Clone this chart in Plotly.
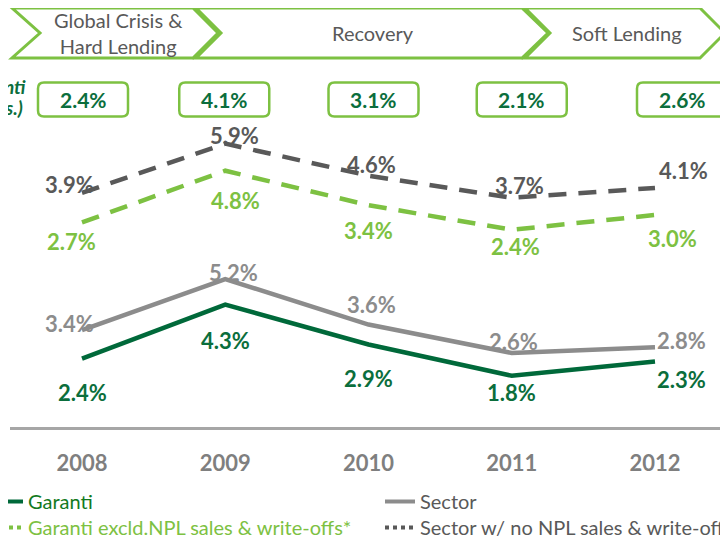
import plotly.graph_objects as go

# ---------------- data ----------------
years = ["2008", "2009", "2010", "2011", "2012"]
garanti = [2.4, 4.3, 2.9, 1.8, 2.3]
sector = [3.4, 5.2, 3.6, 2.6, 2.8]
garanti_excl = [2.7, 4.8, 3.4, 2.4, 3.0]
sector_no_npl = [3.9, 5.9, 4.6, 3.7, 4.1]
box_values = [2.4, 4.1, 3.1, 2.1, 2.6]
phases = ["Global Crisis &<br>Hard Lending", "Recovery", "Soft Lending"]
names = ["Garanti", "Sector", "Garanti excld.NPL sales & write-offs*",
         "Sector w/ no NPL sales & write-offs"]
side_title = ["Garanti", "(bps.)"]

# ---------------- style ----------------
FONT = "Lato"
C_GAR = "#00693A"
C_GAR_TXT = "#0B6E3C"
C_SEC = "#8C8C8C"
C_GEX = "#7DC142"
C_SNN = "#595959"
C_LEG_GAR = "#127A1E"

OFF = 8  # page (body) offset of the figure inside the browser window
WIN_W, WIN_H = 728, 539
W, H = WIN_W - OFF, WIN_H - OFF  # figure fits the window without scrollbars
# plot area in window pixels: x 10..728, y 130..427
ML = 10 - OFF
MR = W - (728 - OFF)
MT = 130 - OFF
MB = H - (427 - OFF)
PW, PH = W - ML - MR, H - MT - MB


def px(x):  # window pixel -> paper x
    return (x - OFF - ML) / PW


def py(y):  # window pixel -> paper y
    return (H - MB - (y - OFF)) / PH


xi = list(range(len(years)))
step = 143.25
x0 = -(82 - 10) / step
x1 = x0 + PW / step

fig = go.Figure()

fig.add_trace(go.Scatter(x=xi, y=sector_no_npl, yaxis="y2", mode="lines",
                         line=dict(color=C_SNN, width=4.5, dash="18px,12px"),
                         showlegend=False, hoverinfo="skip"))
fig.add_trace(go.Scatter(x=xi, y=garanti_excl, yaxis="y2", mode="lines",
                         line=dict(color=C_GEX, width=4.5, dash="18px,12px"),
                         showlegend=False, hoverinfo="skip"))
fig.add_trace(go.Scatter(x=xi, y=sector, mode="lines",
                         line=dict(color=C_SEC, width=4.5),
                         showlegend=False, hoverinfo="skip"))
fig.add_trace(go.Scatter(x=xi, y=garanti, mode="lines",
                         line=dict(color=C_GAR, width=4.5),
                         showlegend=False, hoverinfo="skip"))

# legend-only entries, one legend box per entry (2 x 2 grid)
leg = [(names[0], C_GAR, "solid", C_LEG_GAR, "legend"),
       (names[1], C_SEC, "solid", C_SNN, "legend2"),
       (names[2], C_GEX, "dot", C_GEX, "legend3"),
       (names[3], C_SNN, "dot", C_SNN, "legend4")]
for n, c, d, tc, lg in leg:
    fig.add_trace(go.Scatter(x=[None], y=[None], mode="lines",
                             line=dict(color=c, width=4, dash=d), legend=lg,
                             name=f"<span style='color:{tc}'>{n}</span>"))

ann = []
# data labels (offsets in px: dx right, dy down)
off_gar = [(0, 34), (0, 36), (0, 34), (0, 17), (26, 18)]
off_sec = [(-13, -7), (8, -7), (3, -20), (2, -12), (26, -7)]
off_snn = [(-13, -8), (9, -8), (3, -11), (8, -12), (28, -17)]
off_gex = [(-11, 19), (10, 30), (0, 25), (4, 17), (17, 23)]
for vals, offs, col, yr in [
        (garanti, off_gar, C_GAR_TXT, "y"),
        (sector, off_sec, C_SEC, "y"),
        (sector_no_npl, off_snn, C_SNN, "y2"),
        (garanti_excl, off_gex, C_GEX, "y2")]:
    for i, v in enumerate(vals):
        ann.append(dict(x=xi[i], y=v, xref="x", yref=yr, text=f"<b>{v:.1f}%</b>",
                        showarrow=False, xanchor="center", yanchor="middle",
                        xshift=offs[i][0], yshift=-offs[i][1],
                        font=dict(family=FONT, size=22, color=col)))

shapes = []
# top value boxes
box_shift = [1, -1, 5, 10, 27]
bw, bh, r = 90, 34, 6
cy = 99.5
for i, v in enumerate(box_values):
    cx = 82 + step * xi[i] + box_shift[i]
    l, rr, t, b = cx - bw / 2, cx + bw / 2, cy - bh / 2, cy + bh / 2
    path = (f"M{px(l + r)},{py(t)} L{px(rr - r)},{py(t)} Q{px(rr)},{py(t)} {px(rr)},{py(t + r)} "
            f"L{px(rr)},{py(b - r)} Q{px(rr)},{py(b)} {px(rr - r)},{py(b)} "
            f"L{px(l + r)},{py(b)} Q{px(l)},{py(b)} {px(l)},{py(b - r)} "
            f"L{px(l)},{py(t + r)} Q{px(l)},{py(t)} {px(l + r)},{py(t)} Z")
    shapes.append(dict(type="path", xref="paper", yref="paper", path=path,
                       line=dict(color=C_GEX, width=2.5), fillcolor="white"))
    ann.append(dict(x=px(cx), y=py(cy), xref="paper", yref="paper",
                    text=f"<b>{v:.1f}%</b>", showarrow=False,
                    xanchor="center", yanchor="middle",
                    font=dict(family=FONT, size=21, color=C_GAR_TXT)))

# chevrons
chev = [[(12, 8), (193, 8), (218, 33), (193, 58), (12, 58), (40, 33)],
        [(196, 8), (522, 8), (548, 33), (522, 58), (196, 58), (221, 33)],
        [(525, 8), (700, 8), (725, 33), (700, 58), (525, 58), (550, 33)]]
for pts in chev:
    path = "M" + " L".join(f"{px(a)},{py(b)}" for a, b in pts) + " Z"
    shapes.append(dict(type="path", xref="paper", yref="paper", path=path,
                       line=dict(color=C_GEX, width=3)))
phase_pos = [(118, 33), (373, 33), (627, 33)]
for txt, (a, b) in zip(phases, phase_pos):
    ann.append(dict(x=px(a), y=py(b), xref="paper", yref="paper", text=txt,
                    showarrow=False, xanchor="center", yanchor="middle",
                    font=dict(family=FONT, size=20, color="#595959")))

# side title (cut by the page edge, as in the reference)
for txt, yy, xr in zip(side_title, [86, 107], [28, 25]):
    ann.append(dict(x=px(xr), y=py(yy), xref="paper", yref="paper",
                    text=f"<b><i>{txt}</i></b>", showarrow=False,
                    xanchor="right", yanchor="middle",
                    font=dict(family=FONT, size=19, color=C_GAR_TXT)))

legend_common = dict(orientation="v", xanchor="left", yanchor="top",
                     font=dict(family=FONT, size=20), bgcolor="rgba(0,0,0,0)",
                     tracegroupgap=0, itemwidth=30)

fig.update_layout(
    width=W, height=H,
    margin=dict(l=ML, r=MR, t=MT, b=MB, autoexpand=False),
    paper_bgcolor="white", plot_bgcolor="white",
    font=dict(family=FONT),
    xaxis=dict(range=[x0, x1], tickvals=xi, ticktext=[f"<b>{y}</b>" for y in years],
               showgrid=False, zeroline=False, showline=True, linecolor="#A6A6A6",
               linewidth=3, ticks="", ticklabelstandoff=15,
               tickfont=dict(family=FONT, size=22, color="#7F7F7F")),
    yaxis=dict(range=[0, PH / 28.46], visible=False),
    yaxis2=dict(range=[(288.8 - 427) / 24.6, (288.8 - 130) / 24.6],
                overlaying="y", visible=False),
    showlegend=True,
    legend=dict(x=px(-12), y=py(482), **legend_common),
    legend2=dict(x=px(380), y=py(482), **legend_common),
    legend3=dict(x=px(-12), y=py(508), **legend_common),
    legend4=dict(x=px(380), y=py(508), **legend_common),
    shapes=shapes, annotations=ann,
)

fig.write_html("out.html")
